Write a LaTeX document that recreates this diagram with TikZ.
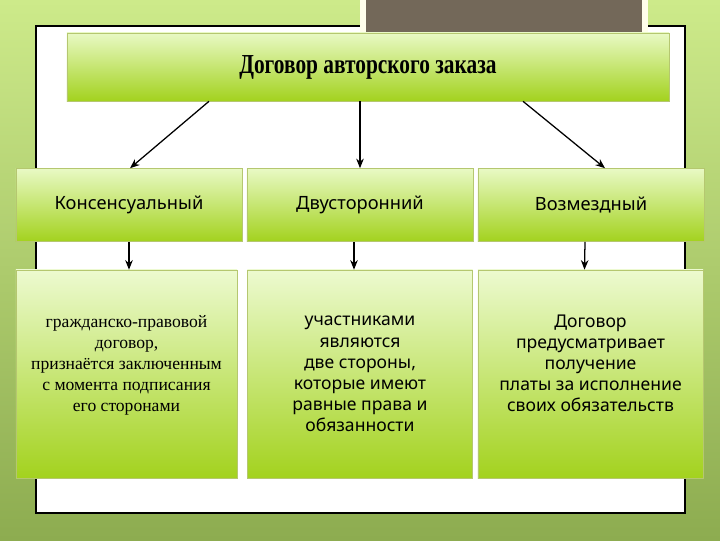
\documentclass[tikz,border=0pt]{standalone}
\usepackage{fontspec}
\setmainfont{Liberation Serif}
\newfontfamily\hdrfont[FakeStretch=0.78]{Liberation Serif}
\newfontfamily\gothfont{Noto Sans}
\usetikzlibrary{positioning,arrows.meta,calc}

\definecolor{bgtop}{HTML}{CDEA8A}
\definecolor{bgbot}{HTML}{8DAC50}
\definecolor{boxtop}{HTML}{E8F9C4}
\definecolor{boxbot}{HTML}{A3D21E}
\definecolor{boxline}{HTML}{B5C770}
\definecolor{slate}{HTML}{736859}

\begin{document}
\begin{tikzpicture}[
  x=0.025cm, y=-0.025cm,
  box/.style={rectangle, draw=boxline, line width=0.4pt, top color=boxtop, bottom color=boxbot,
              align=center, inner sep=3pt},
  hdr/.style={box, minimum width=15.05cm, minimum height=1.7cm,
              font=\hdrfont\bfseries\fontsize{19.5}{22}\selectfont},
  kind/.style={box, minimum width=5.65cm, minimum height=1.825cm,
               font=\gothfont\fontsize{13}{15}\selectfont},
  desc/.style={box, minimum width=5.63cm, minimum height=5.2cm, top color=boxtop!80!white,
               font=\gothfont\fontsize{12.5}{15}\selectfont},
  lawtxt/.style={desc, minimum width=5.525cm, font=\rmfamily\fontsize{12.5}{15}\selectfont},
  arr/.style={-{Stealth[length=2.4mm,width=1.9mm]}, line width=0.9pt, draw=black}
]
\useasboundingbox (0,0) rectangle (720,540);
\fill[top color=bgtop, bottom color=bgbot] (0,0) rectangle (720,540);
\draw[fill=white, line width=0.8pt] (36,26) rectangle (685,513);
\fill[white!92!yellow] (360,0) rectangle (648,34);
\fill[slate] (366,0) rectangle (642,32);

\node[hdr]  (hdr) at (368,67)    {Договор авторского заказа};
\node[kind] (k1)  at (129,205)   {Консенсуальный};
\node[kind] (k2)  at (360,205)   {Двусторонний};
\node[kind] (k3)  at (591,205)   {Возмездный};
\node[lawtxt] (d1) at (126.5,374) {гражданско-правовой\\договор,\\признаётся заключенным\\с момента подписания\\его сторонами\\\mbox{}};
\node[desc] (d2)  at (360,374)   {участниками\\являются\\две стороны,\\которые имеют\\равные права и\\обязанности};
\node[desc] (d3)  at (590.5,374) {Договор\\предусматривает\\получение\\платы за исполнение\\своих обязательств\\\mbox{}};

\draw[arr] ($(hdr.south)+(-159,0)$) -- ($(k1.north)+(1,0)$);
\draw[arr] ($(hdr.south)+(-8,0)$) -- (k2.north);
\draw[arr] ($(hdr.south)+(155,0)$) -- ($(k3.north)+(14,0)$);
\draw[arr] (k1.south) -- (k1.south |- d1.north);
\draw[arr] ($(k2.south)+(-6,0)$) -- ($(d2.north)+(-6,0)$);
\draw[arr] ($(k3.south)+(-6,0)$) -- ($(d3.north)+(-6,0)$);
\end{tikzpicture}
\end{document}
